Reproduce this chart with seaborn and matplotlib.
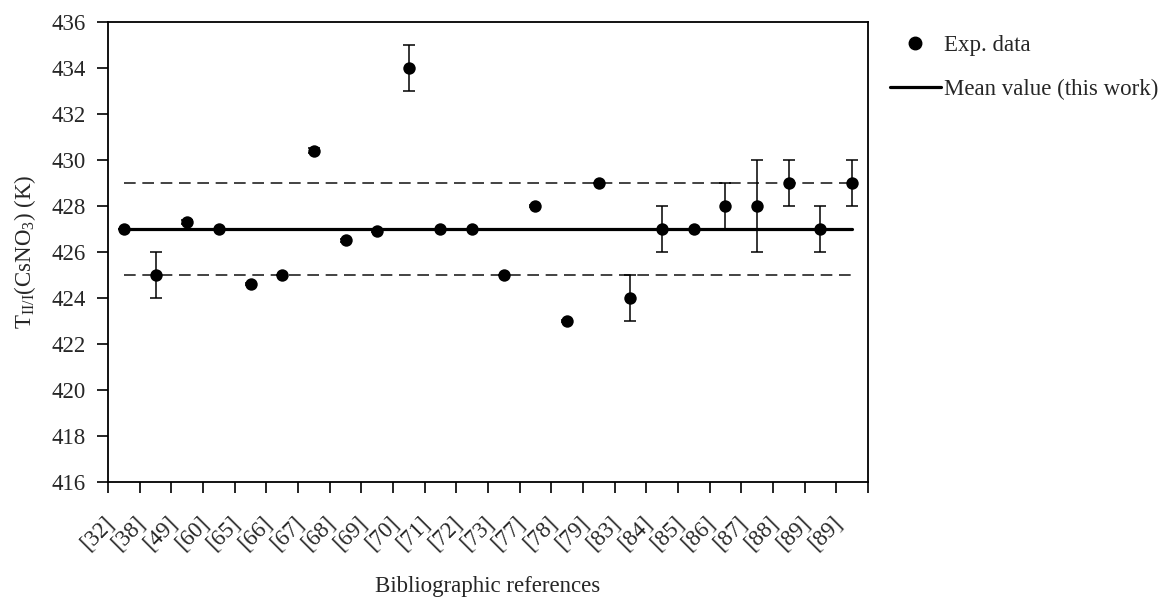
import numpy as np
import pandas as pd
import matplotlib
matplotlib.use("Agg")
import matplotlib.pyplot as plt
import matplotlib.transforms as mtransforms
import seaborn as sns
from matplotlib.lines import Line2D

# Literature values of the II/I transition temperature of CsNO3
refs = ["[32]", "[38]", "[49]", "[60]", "[65]", "[66]", "[67]", "[68]", "[69]", "[70]",
        "[71]", "[72]", "[73]", "[77]", "[78]", "[79]", "[83]", "[84]", "[85]", "[86]",
        "[87]", "[88]", "[89]", "[89]"]
temps = [427.0, 425.0, 427.3, 427.0, 424.6, 425.0, 430.4, 426.5, 426.9, 434.0,
         427.0, 427.0, 425.0, 428.0, 423.0, 429.0, 424.0, 427.0, 427.0, 428.0,
         428.0, 429.0, 427.0, 429.0]
errors = [0.0, 1.0, 0.1, 0.0, 0.05, 0.0, 0.1, 0.05, 0.05, 1.0,
          0.0, 0.0, 0.0, 0.05, 0.05, 0.0, 1.0, 1.0, 0.0, 1.0,
          2.0, 1.0, 1.0, 1.0]
mean_value = 427.0
band = 2.0

sns.set_theme(style="ticks")
plt.rcParams["font.family"] = ["Liberation Serif", "DejaVu Serif"]
plt.rcParams["mathtext.fontset"] = "custom"
plt.rcParams["mathtext.rm"] = "Liberation Serif"
plt.rcParams["mathtext.it"] = "Liberation Serif:italic"

FS = 16.5

df = pd.DataFrame({"pos": np.arange(len(refs)), "ref": refs, "T": temps, "err": errors})

fig = plt.figure(figsize=(11.59, 5.99), dpi=100)
ax = fig.add_axes([0.0932, 0.1953, 0.6557, 0.768])

x0, x1 = df["pos"].iloc[0], df["pos"].iloc[-1]
# mean value and +/- band
ax.plot([x0, x1], [mean_value, mean_value], color="black", lw=2.3, zorder=2)
for yb in (mean_value - band, mean_value + band):
    ax.plot([x0, x1], [yb, yb], color="#222222", lw=1.2, dashes=(7, 4), zorder=1)

# error bars
ax.errorbar(df["pos"], df["T"], yerr=df["err"], fmt="none", ecolor="black",
            elinewidth=1.1, capsize=4.5, capthick=1.1, zorder=3)
sns.scatterplot(data=df, x="pos", y="T", ax=ax, color="black", s=80,
                edgecolor="black", linewidth=0, zorder=4, legend=False)

ax.set_xlim(-0.5, len(refs) - 0.5)
ax.set_ylim(416, 436)
ax.set_yticks(np.arange(416, 437, 2))
ax.set_xticks(np.arange(-0.5, len(refs), 1.0))
ax.set_xticklabels([])
ax.set_xticks(np.arange(len(refs)), minor=True)
ax.set_xticklabels(refs, minor=True, rotation=45, ha="right", va="top",
                   rotation_mode="anchor", fontsize=FS)
ax.tick_params(axis="x", which="minor", length=0, pad=22)
ax.tick_params(axis="x", which="major", direction="out", length=8, width=1.2, color="black")
ax.tick_params(axis="y", direction="out", length=8, width=1.2, labelsize=FS,
               color="black", pad=8)
shift = mtransforms.ScaledTranslation(-15 / 72, 0, fig.dpi_scale_trans)
for lab in ax.get_xticklabels(minor=True):
    lab.set_transform(lab.get_transform() + shift)

for s in ax.spines.values():
    s.set_color("black")
    s.set_linewidth(1.3)

ax.set_xlabel("Bibliographic references", fontsize=FS, va="top")
ax.xaxis.set_label_coords(0.5, -0.205)
ax.set_ylabel(r"T$_{\mathrm{II/I}}$(CsNO$_3$) (K)", fontsize=FS, labelpad=10)

handles = [
    Line2D([], [], marker="o", color="black", linestyle="none", markersize=9),
    Line2D([], [], color="black", lw=2.3),
]
fig.legend(handles, ["Exp. data", "Mean value (this work)"], loc="upper left",
           bbox_to_anchor=(0.768, 0.942), frameon=False, fontsize=FS,
           handlelength=2.2, handletextpad=0.15, labelspacing=1.0,
           borderpad=0, borderaxespad=0)

fig.savefig("out.png", dpi=100, facecolor="white")
